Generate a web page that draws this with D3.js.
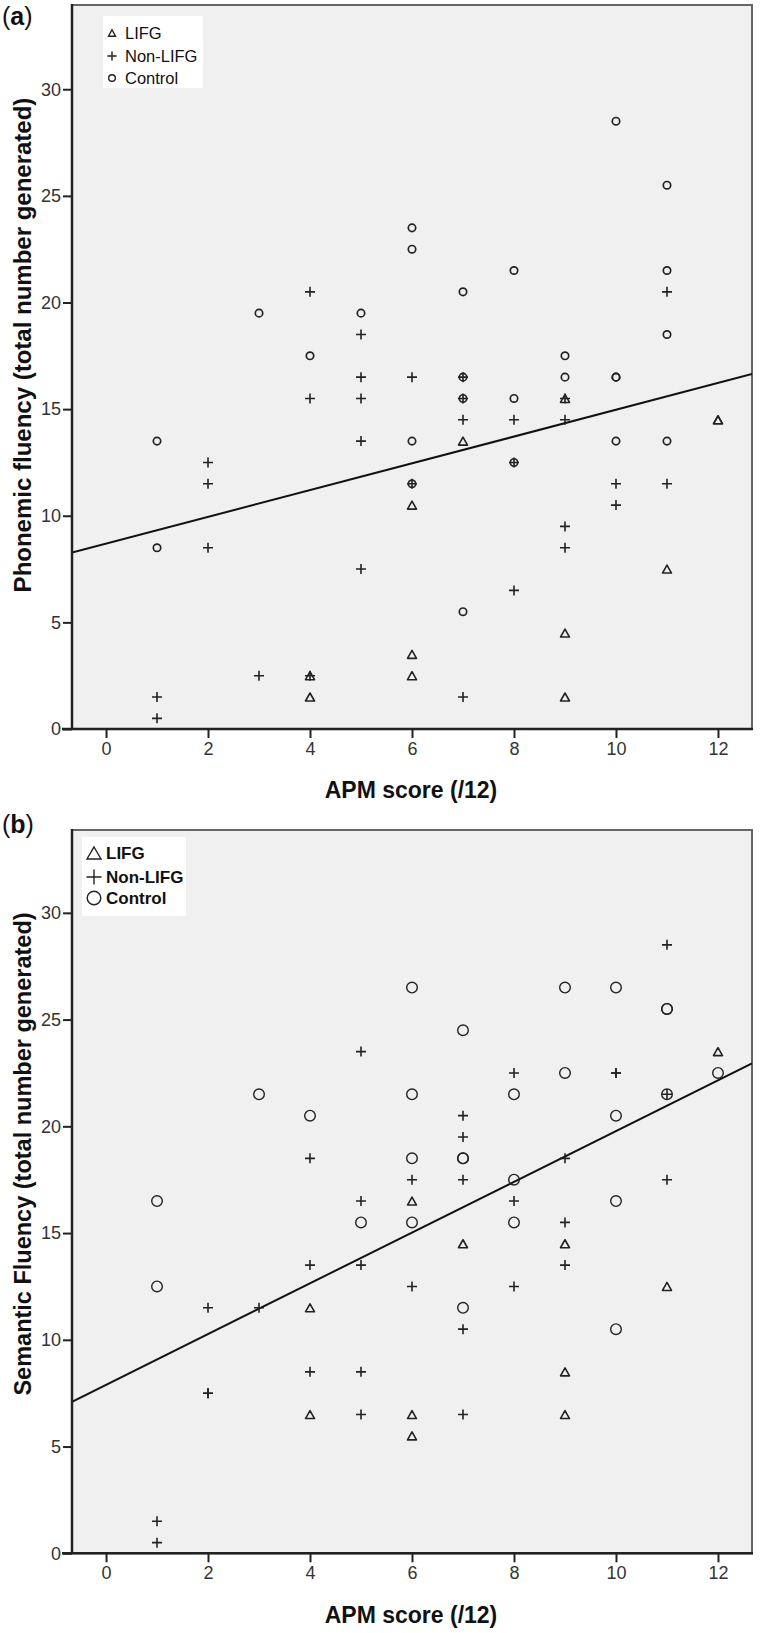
<!DOCTYPE html>
<html>
<head>
<meta charset="utf-8">
<script src="https://cdn.jsdelivr.net/npm/d3@7"></script>
<style>
  html, body { margin: 0; padding: 0; background: #fff; }
  svg { display: block; }
  text { font-family: "Liberation Sans", Arial, sans-serif; }
</style>
</head>
<body>
<svg id="chart" width="760" height="1633"></svg>
<script>
// ---------- DATA ----------
const xTicks = [0, 2, 4, 6, 8, 10, 12];
const yTicks = [0, 5, 10, 15, 20, 25, 30];
const legendLabels = ["LIFG", "Non-LIFG", "Control"];

// Panel (a): Phonemic fluency vs APM score  [APM, fluency]
const phonemicLIFG = [[4,2.5],[4,1.5],[6,10.5],[6,3.5],[6,2.5],[7,13.5],[9,15.5],[9,4.5],[9,1.5],[11,7.5],[12,14.5],[12,14.5]];
const phonemicNonLIFG = [[1,1.5],[1,0.5],[2,12.5],[2,11.5],[2,8.5],[3,2.5],[4,20.5],[4,15.5],[4,2.5],[5,18.5],[5,16.5],[5,15.5],[5,13.5],[5,7.5],[6,16.5],[6,11.5],[7,16.5],[7,15.5],[7,14.5],[7,1.5],[8,14.5],[8,12.5],[8,6.5],[9,15.5],[9,14.5],[9,9.5],[9,8.5],[10,11.5],[10,10.5],[11,20.5],[11,11.5]];
const phonemicControl = [[1,13.5],[1,8.5],[3,19.5],[4,17.5],[5,19.5],[6,23.5],[6,22.5],[6,13.5],[6,11.5],[7,20.5],[7,16.5],[7,15.5],[7,5.5],[8,21.5],[8,15.5],[8,12.5],[9,17.5],[9,16.5],[10,28.5],[10,16.5],[10,16.5],[10,13.5],[11,25.5],[11,21.5],[11,18.5],[11,13.5]];
const phonemicFit = [8.69, 0.628]; // intercept, slope

// Panel (b): Semantic fluency vs APM score
const semanticLIFG = [[4,11.5],[4,6.5],[6,16.5],[6,6.5],[6,5.5],[7,14.5],[9,14.5],[9,8.5],[9,6.5],[11,12.5],[12,23.5]];
const semanticNonLIFG = [[1,1.5],[1,0.5],[2,11.5],[2,7.5],[2,7.5],[3,11.5],[4,18.5],[4,13.5],[4,8.5],[5,23.5],[5,16.5],[5,13.5],[5,8.5],[5,6.5],[6,17.5],[6,12.5],[7,20.5],[7,19.5],[7,17.5],[7,10.5],[7,6.5],[8,22.5],[8,16.5],[8,12.5],[9,18.5],[9,15.5],[9,13.5],[10,22.5],[10,22.5],[11,28.5],[11,21.5],[11,17.5]];
const semanticControl = [[1,16.5],[1,12.5],[3,21.5],[4,20.5],[5,15.5],[6,26.5],[6,21.5],[6,18.5],[6,15.5],[7,24.5],[7,18.5],[7,18.5],[7,11.5],[8,21.5],[8,17.5],[8,15.5],[9,26.5],[9,22.5],[10,26.5],[10,20.5],[10,16.5],[10,10.5],[11,25.5],[11,25.5],[11,21.5],[12,22.5]];
const semanticFit = [7.89, 1.189];

// ---------- DRAWING ----------
const svg = d3.select("#chart");

function triPath(w, h) {
  return `M0,${-h/2}L${w/2},${h/2}L${-w/2},${h/2}Z`;
}
function plusPath(s) {
  return `M${-s/2},0H${s/2}M0,${-s/2}V${s/2}`;
}

function panel(cfg) {
  const x = d3.scaleLinear().domain([-0.667, 12.667]).range([72, 752]);
  const y = d3.scaleLinear().domain([0, cfg.yMax]).range([cfg.bottom, cfg.top]);
  const g = svg.append("g");

  // plot background + frame
  g.append("rect")
    .attr("x", x.range()[0]).attr("y", cfg.top)
    .attr("width", x.range()[1] - x.range()[0]).attr("height", cfg.bottom - cfg.top)
    .attr("fill", "#f0f0f0").attr("stroke", "#666").attr("stroke-width", 2);

  // clip
  const clipId = "clip" + cfg.id;
  svg.append("clipPath").attr("id", clipId).append("rect")
    .attr("x", x.range()[0]).attr("y", cfg.top)
    .attr("width", x.range()[1] - x.range()[0]).attr("height", cfg.bottom - cfg.top);

  // regression line
  const [b0, b1] = cfg.fit;
  const xd = x.domain();
  g.append("line")
    .attr("clip-path", `url(#${clipId})`)
    .attr("x1", x(xd[0])).attr("y1", y(b0 + b1 * xd[0]))
    .attr("x2", x(xd[1])).attr("y2", y(b0 + b1 * xd[1]))
    .attr("stroke", "#111").attr("stroke-width", 2);

  // axes
  const xAxis = d3.axisBottom(x).tickValues(xTicks).tickSize(9).tickSizeOuter(0).tickPadding(4);
  const yAxis = d3.axisLeft(y).tickValues(yTicks).tickSize(9).tickSizeOuter(0).tickPadding(2);
  const gx = g.append("g").attr("transform", `translate(0,${cfg.bottom})`).call(xAxis);
  const gy = g.append("g").attr("transform", `translate(${x.range()[0]},0)`).call(yAxis);
  [gx, gy].forEach(a => {
    a.select(".domain").remove();
    a.selectAll(".tick line").attr("stroke", "#222").attr("stroke-width", 2);
    a.selectAll(".tick text").attr("fill", "#333").style("font-size", "18px")
      .style("font-family", "'Liberation Sans', Arial, sans-serif");
  });
  gx.selectAll(".tick text").attr("dy", "0.71em");
  // axis lines (left and bottom), thicker
  g.append("line").attr("x1", x.range()[0] - 10).attr("x2", x.range()[1] + 1)
    .attr("y1", cfg.bottom).attr("y2", cfg.bottom).attr("stroke", "#222").attr("stroke-width", 2.5);
  g.append("line").attr("x1", x.range()[0]).attr("x2", x.range()[0])
    .attr("y1", cfg.top - 1).attr("y2", cfg.bottom).attr("stroke", "#222").attr("stroke-width", 2.5);

  // points
  const pts = g.append("g");
  pts.selectAll(".ctl").data(cfg.control).join("circle")
    .attr("cx", d => x(d[0])).attr("cy", d => y(d[1])).attr("r", cfg.circleR)
    .attr("fill", "none").attr("stroke", "#222").attr("stroke-width", cfg.circleW);
  pts.selectAll(".lifg").data(cfg.lifg).join("path")
    .attr("d", triPath(cfg.triW, cfg.triH))
    .attr("transform", d => `translate(${x(d[0])},${y(d[1])})`)
    .attr("fill", "none").attr("stroke", "#222").attr("stroke-width", 1.6).attr("stroke-linejoin", "round");
  pts.selectAll(".non").data(cfg.non).join("path")
    .attr("d", plusPath(cfg.plusS))
    .attr("transform", d => `translate(${x(d[0])},${y(d[1])})`)
    .attr("fill", "none").attr("stroke", "#222").attr("stroke-width", 1.6);

  // legend
  const L = cfg.legend;
  g.append("rect").attr("x", L.x).attr("y", L.y).attr("width", L.w).attr("height", L.h).attr("fill", "#fff");
  legendLabels.forEach((lab, i) => {
    const cy = L.rows[i];
    if (i === 0) {
      g.append("path").attr("d", triPath(L.triW, L.triH)).attr("transform", `translate(${L.sx},${cy})`)
        .attr("fill", "none").attr("stroke", "#222").attr("stroke-width", L.sw);
    } else if (i === 1) {
      g.append("path").attr("d", plusPath(L.plusS)).attr("transform", `translate(${L.sx},${cy})`)
        .attr("fill", "none").attr("stroke", "#222").attr("stroke-width", L.sw);
    } else {
      g.append("circle").attr("cx", L.sx).attr("cy", cy).attr("r", L.circleR)
        .attr("fill", "none").attr("stroke", "#222").attr("stroke-width", L.sw);
    }
    g.append("text").attr("x", L.tx).attr("y", cy).attr("dy", "0.36em")
      .style("font-size", L.fs + "px").style("font-weight", L.bold ? "bold" : "normal")
      .attr("fill", "#111").text(lab);
  });

  // axis titles
  g.append("text").attr("x", 411).attr("y", cfg.xTitleY)
    .attr("text-anchor", "middle").style("font-size", "23px").style("font-weight", "bold")
    .attr("fill", "#111").text("APM score (/12)");
  g.append("text").attr("transform", `translate(31,${cfg.yTitleC}) rotate(-90)`)
    .attr("text-anchor", "middle").style("font-size", cfg.yTitleFs + "px").style("font-weight", "bold")
    .attr("fill", "#111").text(cfg.yTitle);

  // panel letter
  const pl = g.append("text").attr("x", 2).attr("y", cfg.letterY).style("font-size", "25px").attr("fill", "#111");
  pl.append("tspan").text("(");
  pl.append("tspan").style("font-weight", "bold").text(cfg.letter);
  pl.append("tspan").text(")");
}

panel({
  id: "a", top: 5, bottom: 729, yMax: 33.95, fit: phonemicFit,
  lifg: phonemicLIFG, non: phonemicNonLIFG, control: phonemicControl,
  circleR: 3.7, circleW: 1.7, triW: 9, triH: 8, plusS: 10,
  legend: { x: 103, y: 16, w: 100, h: 72, rows: [33, 56, 78], sx: 112, tx: 125,
            triW: 7, triH: 6.5, plusS: 9, circleR: 3.3, sw: 1.4, fs: 16.5, bold: false },
  xTitleY: 798, yTitle: "Phonemic fluency (total number generated)", yTitleC: 345, yTitleFs: 24,
  letter: "a", letterY: 25
});

panel({
  id: "b", top: 830, bottom: 1553.3, yMax: 33.88, fit: semanticFit,
  lifg: semanticLIFG, non: semanticNonLIFG, control: semanticControl,
  circleR: 5.3, circleW: 1.4, triW: 9, triH: 8, plusS: 10,
  legend: { x: 82, y: 837, w: 104, h: 79, rows: [853, 877, 898], sx: 94, tx: 106,
            triW: 14, triH: 12, plusS: 15, circleR: 6.8, sw: 1.4, fs: 17, bold: true },
  xTitleY: 1623, yTitle: "Semantic Fluency (total number generated)", yTitleC: 1154, yTitleFs: 23.5,
  letter: "b", letterY: 833
});
</script>
</body>
</html>
